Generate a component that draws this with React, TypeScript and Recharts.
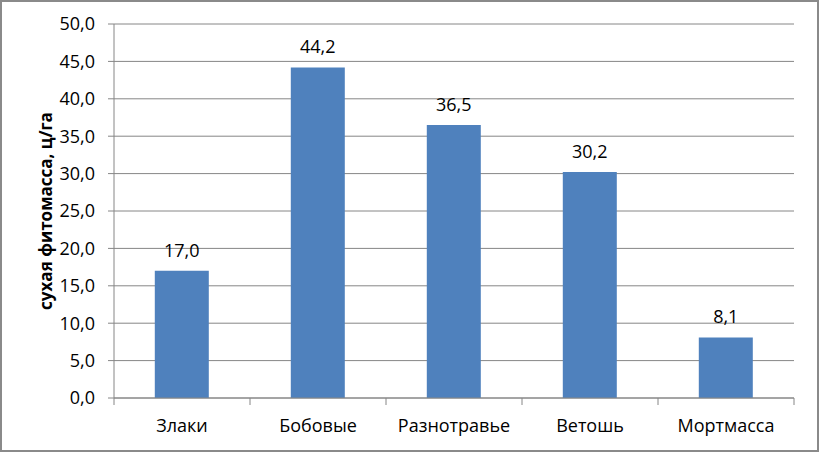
import React from 'react';
import { BarChart, Bar, XAxis, YAxis, CartesianGrid, LabelList, Label } from 'recharts';

const categories = ['Злаки', 'Бобовые', 'Разнотравье', 'Ветошь', 'Мортмасса'];
const values = [17.0, 44.2, 36.5, 30.2, 8.1];
const yTicks = [0, 5, 10, 15, 20, 25, 30, 35, 40, 45, 50];
const yTitle = 'сухая фитомасса, ц/га';

const data = categories.map((name, i) => ({ name, value: values[i] }));
const fmt = (v: number) => v.toFixed(1).replace('.', ',');

const FONT = '"Open Sans", "DejaVu Sans", sans-serif';
const GRID = '#868686';
const FS = 18;

const CHART_W = 815;
const CHART_H = 448;
const MARGIN = { top: 22, right: 23, left: 52, bottom: 22 };
const Y_W = 60;
const PLOT_W = CHART_W - MARGIN.left - Y_W - MARGIN.right;
const HALF_BAND = PLOT_W / categories.length / 2;

const XTick = (props: any) => {
  const { x, y, payload, index } = props;
  const top = y - 8;
  return (
    <g>
      <line x1={x - HALF_BAND} x2={x - HALF_BAND} y1={top} y2={top + 7} stroke={GRID} />
      {index === categories.length - 1 && (
        <line x1={x + HALF_BAND} x2={x + HALF_BAND} y1={top} y2={top + 7} stroke={GRID} />
      )}
      <text x={x} y={top + 34} textAnchor="middle" fill="#000" fontSize={FS} fontFamily={FONT}>
        {payload.value}
      </text>
    </g>
  );
};

export default function App() {
  return (
    <div
      style={{
        position: 'absolute',
        left: 0,
        top: 0,
        width: 819,
        height: 452,
        boxSizing: 'border-box',
        border: '2px solid #8a8a8a',
        background: '#fff',
      }}
    >
      <BarChart width={CHART_W} height={CHART_H} data={data} margin={MARGIN} barCategoryGap="30%">
        <CartesianGrid horizontal vertical={false} stroke={GRID} />
        <XAxis
          dataKey="name"
          height={30}
          stroke={GRID}
          tickLine={false}
          tick={<XTick />}
          interval={0}
        />
        <YAxis
          width={Y_W}
          domain={[0, 50]}
          ticks={yTicks}
          tickFormatter={fmt}
          stroke={GRID}
          tickSize={6}
          tickMargin={13}
          interval={0}
          tick={{ fill: '#000', fontSize: FS, fontFamily: FONT }}
        >
          <Label
            value={yTitle}
            angle={-90}
            position="left"
            offset={8}
            textAnchor="middle"
            style={{ fontWeight: 'bold', fontSize: 17, fontFamily: FONT, fill: '#000', textAnchor: 'middle' }}
          />
        </YAxis>
        <Bar dataKey="value" fill="#4F81BD" isAnimationActive={false}>
          <LabelList
            dataKey="value"
            position="top"
            offset={14}
            formatter={(v: any) => fmt(Number(v))}
            style={{ fill: '#000', fontSize: FS, fontFamily: FONT }}
          />
        </Bar>
      </BarChart>
    </div>
  );
}
